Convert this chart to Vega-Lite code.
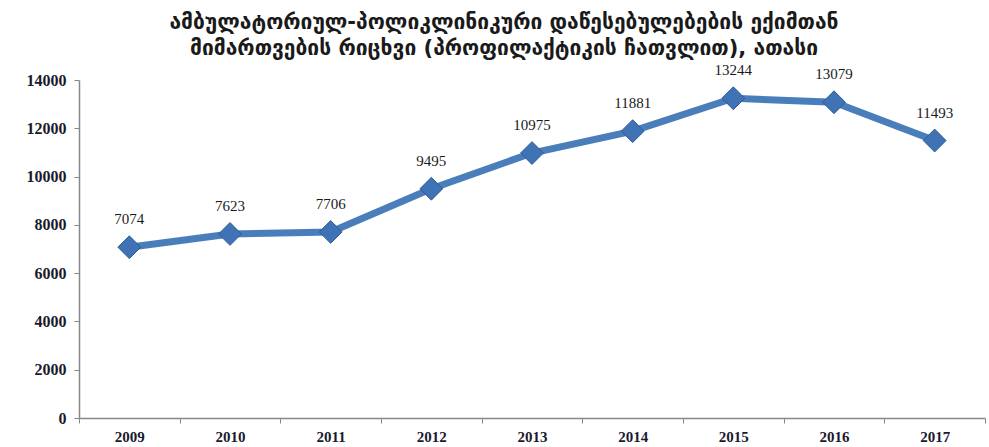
{
  "$schema": "https://vega.github.io/schema/vega-lite/v6.json",
  "width": 906,
  "height": 338,
  "autosize": "none",
  "padding": {"left": 79, "top": 80, "right": 4, "bottom": 29},
  "background": "white",
  "config": {"view": {"stroke": null}},
  "title": {
    "text": ["ამბულატორიულ-პოლიკლინიკური დაწესებულებების ექიმთან", "მიმართვების რიცხვი (პროფილაქტიკის ჩათვლით), ათასი"],
    "font": "DejaVu Sans",
    "fontSize": 21,
    "fontWeight": "bold",
    "color": "#1a1a1a",
    "lineHeight": 26,
    "anchor": "middle",
    "dx": -28,
    "offset": 4
  },
  "data": {
    "values": [
      {"year": "2009", "value": 7074},
      {"year": "2010", "value": 7623},
      {"year": "2011", "value": 7706},
      {"year": "2012", "value": 9495},
      {"year": "2013", "value": 10975},
      {"year": "2014", "value": 11881},
      {"year": "2015", "value": 13244},
      {"year": "2016", "value": 13079},
      {"year": "2017", "value": 11493}
    ]
  },
  "encoding": {
    "x": {
      "field": "year",
      "type": "ordinal",
      "scale": {"type": "band", "paddingInner": 0, "paddingOuter": 0},
      "axis": {
        "title": null,
        "labelAngle": 0,
        "labelFont": "Liberation Serif",
        "labelFontSize": 15,
        "labelFontWeight": "bold",
        "labelColor": "#1a1a2e",
        "labelPadding": 6,
        "domainColor": "#888888",
        "domainWidth": 1.5,
        "tickColor": "#888888",
        "tickSize": 5,
        "tickBand": "extent"
      }
    },
    "y": {
      "field": "value",
      "type": "quantitative",
      "scale": {"domain": [0, 14000]},
      "axis": {
        "title": null,
        "values": [0, 2000, 4000, 6000, 8000, 10000, 12000, 14000],
        "format": "d",
        "grid": false,
        "labelFont": "Liberation Serif",
        "labelFontSize": 16,
        "labelFontWeight": "bold",
        "labelColor": "#1a1a2e",
        "labelPadding": 8,
        "domainColor": "#888888",
        "domainWidth": 1.5,
        "tickColor": "#888888",
        "tickSize": 5
      }
    }
  },
  "layer": [
    {"mark": {"type": "line", "color": "#4A7EBB", "strokeWidth": 7}},
    {"mark": {"type": "point", "shape": "diamond", "filled": true, "size": 520, "color": "#3F73B5", "stroke": "#2E5A94", "strokeWidth": 1, "opacity": 1}},
    {"mark": {"type": "text", "dy": -28, "font": "Liberation Serif", "fontSize": 15, "color": "#1a1a1a"}, "encoding": {"text": {"field": "value", "type": "quantitative", "format": "d"}}}
  ]
}
